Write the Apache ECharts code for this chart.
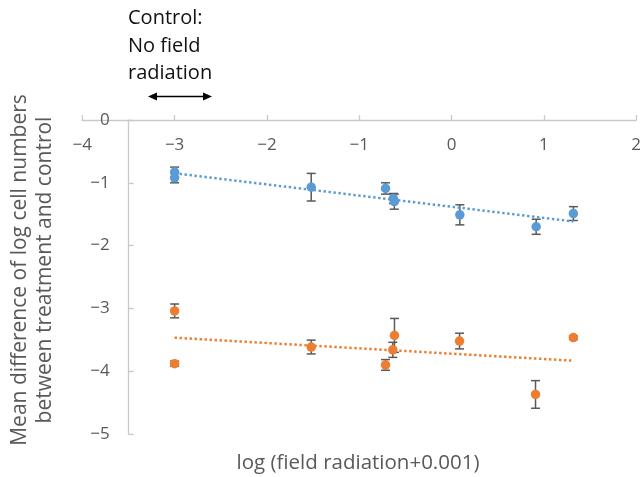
<!DOCTYPE html>
<html>
<head>
<meta charset="utf-8">
<script src="https://cdn.jsdelivr.net/npm/echarts@6/dist/echarts.min.js"></script>
<style>
html,body{margin:0;padding:0;background:#fff;}
#chart{width:644px;height:477px;}
</style>
</head>
<body>
<div id="chart"></div>
<script>
// ---- data ----
const xTicks = [-4, -3, -2, -1, 0, 1, 2];
const yTicks = [0, -1, -2, -3, -4, -5];

const blueX   = [-3, -3, -1.52, -0.715, -0.63, -0.62, 0.09, 0.917, 1.32];
const blueY   = [-0.83, -0.92, -1.07, -1.09, -1.25, -1.30, -1.51, -1.70, -1.49];
const blueErr = [0.08, 0.08, 0.22, 0.09, 0.08, 0.12, 0.16, 0.12, 0.11];

const orangeX   = [-3, -3, -1.52, -0.715, -0.618, -0.636, 0.087, 0.91, 1.32];
const orangeY   = [-3.04, -3.88, -3.615, -3.90, -3.43, -3.66, -3.52, -4.37, -3.465];
const orangeErr = [0.11, 0.04, 0.11, 0.085, 0.27, 0.12, 0.125, 0.22, 0.03];

const yAxisCross = -3.5;

const xName = 'log (field radiation+0.001)';
const yName = 'Mean difference of log cell numbers\nbetween treatment and control';
const noteText = 'Control:\nNo field\nradiation';

// ---- helpers ----
function pairs(xs, ys) { return xs.map((x, i) => [x, ys[i]]); }
function errData(xs, ys, es) { return xs.map((x, i) => [x, ys[i] - es[i], ys[i] + es[i]]); }
function fit(xs, ys) {
  const n = xs.length;
  const mx = xs.reduce((a, b) => a + b, 0) / n;
  const my = ys.reduce((a, b) => a + b, 0) / n;
  let sxy = 0, sxx = 0;
  for (let i = 0; i < n; i++) { sxy += (xs[i] - mx) * (ys[i] - my); sxx += (xs[i] - mx) * (xs[i] - mx); }
  const b = sxy / sxx, a = my - b * mx;
  const x0 = Math.min(...xs), x1 = Math.max(...xs);
  return [[x0, a + b * x0], [x1, a + b * x1]];
}
const minus = v => (v < 0 ? '\u2212' + Math.abs(v) : String(v));

const FONT = 'Open Sans';
const AXIS_GREY = '#c9c9c9';
const TEXT_GREY = '#595959';
const BLUE = '#5B9BD5';
const ORANGE = '#ED7D31';
const ERR = '#595959';

function errSeries(data) {
  return {
    type: 'custom',
    data: data,
    z: 3,
    silent: true,
    renderItem: function (params, api) {
      const x = api.value(0);
      const lo = api.coord([x, api.value(1)]);
      const hi = api.coord([x, api.value(2)]);
      const w = 4.5;
      const st = { stroke: ERR, lineWidth: 1.5 };
      return {
        type: 'group',
        children: [
          { type: 'line', shape: { x1: lo[0], y1: lo[1], x2: hi[0], y2: hi[1] }, style: st },
          { type: 'line', shape: { x1: lo[0] - w, y1: lo[1], x2: lo[0] + w, y2: lo[1] }, style: st },
          { type: 'line', shape: { x1: hi[0] - w, y1: hi[1], x2: hi[0] + w, y2: hi[1] }, style: st }
        ]
      };
    }
  };
}

function trend(xs, ys, color) {
  return {
    type: 'line',
    data: fit(xs, ys),
    showSymbol: false,
    silent: true,
    z: 4,
    lineStyle: { color: color, width: 2.5, type: [2.4, 2.6], cap: 'butt' }
  };
}

function dots(xs, ys, color) {
  return {
    type: 'scatter',
    data: pairs(xs, ys),
    symbol: 'circle',
    symbolSize: 9.5,
    z: 5,
    itemStyle: { color: color, opacity: 1 }
  };
}

const chart = echarts.init(document.getElementById('chart'), null, { renderer: 'canvas' });

// grid: x from -4 (82.3px) to 2 (638.3px), y from 0 (120px) to -5 (434px)
const gridLeft = 82.3, gridRight = 644 - 638.3, gridTop = 120, gridBottom = 477 - 434;
const pxPerX = (644 - gridRight - gridLeft) / (xTicks[xTicks.length - 1] - xTicks[0]);
const yAxisOffset = -(yAxisCross - xTicks[0]) * pxPerX;

chart.setOption({
  animation: false,
  backgroundColor: '#ffffff',
  textStyle: { fontFamily: FONT },
  grid: { left: gridLeft, right: gridRight, top: gridTop, bottom: gridBottom, containLabel: false },
  xAxis: {
    type: 'value',
    position: 'top',
    min: xTicks[0],
    max: xTicks[xTicks.length - 1],
    interval: 1,
    axisLine: { show: true, onZero: false, lineStyle: { color: AXIS_GREY, width: 1.3 } },
    axisTick: { show: true, inside: false, length: 5, lineStyle: { color: AXIS_GREY, width: 1.3 } },
    axisLabel: { inside: true, margin: 17, color: TEXT_GREY, fontSize: 17, fontFamily: FONT, formatter: minus },
    splitLine: { show: false }
  },
  yAxis: {
    type: 'value',
    min: yTicks[yTicks.length - 1],
    max: yTicks[0],
    interval: 1,
    offset: yAxisOffset,
    axisLine: { show: true, onZero: false, lineStyle: { color: AXIS_GREY, width: 1.3 } },
    axisTick: { show: true, inside: true, length: 5, lineStyle: { color: AXIS_GREY, width: 1.3 } },
    axisLabel: { margin: 19, color: TEXT_GREY, fontSize: 17, fontFamily: FONT, formatter: minus },
    splitLine: { show: false }
  },
  series: [
    trend(blueX, blueY, BLUE),
    trend(orangeX, orangeY, ORANGE),
    errSeries(errData(blueX, blueY, blueErr)),
    errSeries(errData(orangeX, orangeY, orangeErr)),
    dots(blueX, blueY, BLUE),
    dots(orangeX, orangeY, ORANGE)
  ],
  graphic: [
    {
      type: 'text',
      left: 128, top: 5,
      style: { text: noteText, fill: '#111', font: '20px "' + FONT + '"', lineHeight: 27.5 }
    },
    {
      type: 'text',
      x: 32.5, y: 270,
      rotation: Math.PI / 2,
      style: { text: yName, fill: TEXT_GREY, font: '21px "' + FONT + '"', lineHeight: 25, align: 'center', verticalAlign: 'middle' }
    },
    {
      type: 'text',
      x: 358, y: 463,
      style: { text: xName, fill: TEXT_GREY, font: '20.5px "' + FONT + '"', align: 'center', verticalAlign: 'middle' }
    },
    {
      type: 'group',
      children: [
        { type: 'line', shape: { x1: 153, y1: 96.5, x2: 207, y2: 96.5 }, style: { stroke: '#000', lineWidth: 1.6 } },
        { type: 'polygon', shape: { points: [[148, 96.5], [157, 92.5], [157, 100.5]] }, style: { fill: '#000' } },
        { type: 'polygon', shape: { points: [[212, 96.5], [203, 92.5], [203, 100.5]] }, style: { fill: '#000' } }
      ]
    }
  ]
});
</script>
</body>
</html>
